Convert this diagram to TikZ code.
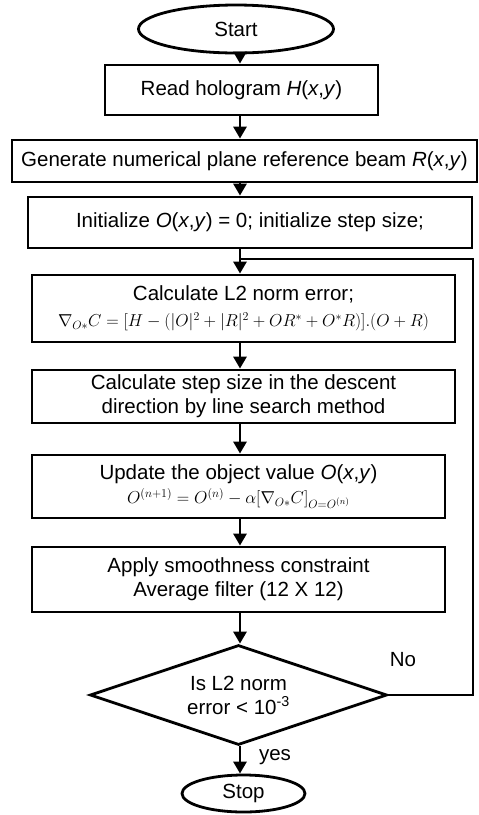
\documentclass[tikz,border=0pt]{standalone}
\usepackage{fontspec}
\setmainfont{Liberation Sans}
\usetikzlibrary{shapes.geometric,arrows.meta}
\begin{document}
\begin{tikzpicture}[x=1pt, y=-1pt, font=\fontsize{20.5}{24}\selectfont,
    box/.style = {draw, line width=2.8pt, inner sep=0pt, align=center},
    term/.style = {draw, ellipse, line width=2.8pt, inner sep=0pt},
    cond/.style = {draw, diamond, aspect=2.97, line width=2.8pt, inner sep=0pt, align=center},
    arr/.style = {line width=2.8pt, -{Triangle[length=12pt,width=13pt]}}]
    \useasboundingbox (0,0) rectangle (479,815);
    \node[term, minimum width=195pt, minimum height=48pt] (start) at (236,29) {Start};
    \node[box, minimum width=273pt, minimum height=50pt] (read) at (241.5,90) {Read hologram \textit{H}(\textit{x},\textit{y})};
    \node[box, minimum width=465pt, minimum height=42pt] (gen) at (244.5,161) {Generate numerical plane reference beam \textit{R}(\textit{x},\textit{y})};
    \node[box, minimum width=444pt, minimum height=51pt] (init) at (250,222.5) {Initialize \textit{O}(\textit{x},\textit{y}) = 0; initialize step size;};
    \node[box, minimum width=423pt, minimum height=67pt] (calc) at (243.5,308.5) {Calculate L2 norm error;\\[2pt] {\fontsize{18.5}{20}\selectfont $\nabla_{O*}C=[H-(|O|^2+|R|^2+OR^*+O^*R)].(O+R)$}};
    \node[box, minimum width=423pt, minimum height=53pt] (search) at (243.5,396.5) {Calculate step size in the descent\\direction by line search method};
    \node[box, minimum width=413pt, minimum height=63pt] (upd) at (238.5,486.5) {Update the object value \textit{O}(\textit{x},\textit{y})\\ {\fontsize{18}{20}\selectfont $O^{(n+1)}=O^{(n)}-\alpha[\nabla_{O*}C]_{O=O^{(n)}}$}};
    \node[box, minimum width=413pt, minimum height=65pt] (apply) at (238.5,579.5) {Apply smoothness constraint\\Average filter (12 X 12)};
    \node[cond, minimum width=297pt, minimum height=100pt] (test) at (238.5,695) {Is L2 norm\\error < 10\textsuperscript{-3}};
    \node[term, minimum width=123pt, minimum height=37pt] (stop) at (243.5,793.5) {Stop};
    \node (no) at (403,660) {No};
    \node (yes) at (275,757) {yes};
    \coordinate (col) at (240,0);
    \coordinate (back) at (473,259);
    \draw[arr] (start.south -| col) -- (read.north -| col);
    \draw[arr] (read.south -| col) -- (gen.north -| col);
    \draw[arr] (gen.south -| col) -- (init.north -| col);
    \draw[arr] (init.south -| col) -- (calc.north -| col);
    \draw[arr] (calc.south -| col) -- (search.north -| col);
    \draw[arr] (search.south -| col) -- (upd.north -| col);
    \draw[arr] (upd.south -| col) -- (apply.north -| col);
    \draw[arr] (apply.south -| col) -- (test.north -| col);
    \draw[arr] (test.south -| col) -- (stop.north -| col);
    \draw[line width=2.8pt] (test.east) -| (back) -- (back -| col);
\end{tikzpicture}
\end{document}
